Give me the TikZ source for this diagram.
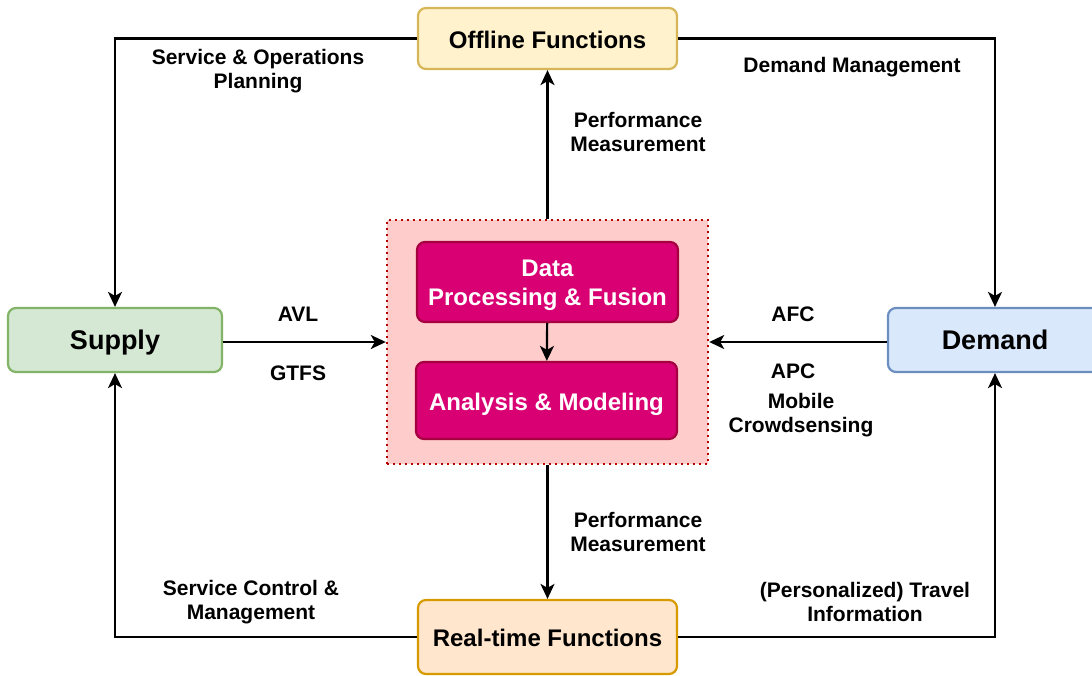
\documentclass[tikz,border=0pt]{standalone}
\usepackage{fontspec}
\setmainfont{Liberation Sans}
\usetikzlibrary{arrows.meta}
\definecolor{offfill}{HTML}{FFF2CC}
\definecolor{offline}{HTML}{D6B656}
\definecolor{supfill}{HTML}{D5E8D4}
\definecolor{supline}{HTML}{82B366}
\definecolor{demfill}{HTML}{DAE8FC}
\definecolor{demline}{HTML}{6C8EBF}
\definecolor{rtfill}{HTML}{FFE6CC}
\definecolor{rtline}{HTML}{D79B00}
\definecolor{hubfill}{HTML}{FFCCCC}
\definecolor{hubline}{HTML}{B20000}
\definecolor{corefill}{HTML}{D80073}
\definecolor{coreline}{HTML}{A50040}

\begin{document}
\begin{tikzpicture}[x=1pt,y=-1pt,
  box/.style={draw,rounded corners=8pt,line width=2.2pt,align=center,
    text height=24pt,text depth=4.4pt,
    font=\bfseries\fontsize{24}{29}\selectfont},
  big/.style={text height=25pt,text depth=5.6pt,
    font=\bfseries\fontsize{27}{32}\selectfont},
  core/.style={box,fill=corefill,draw=coreline,text=white,minimum width=261pt},
  lbl/.style={align=center,font=\bfseries\fontsize{21}{24}\selectfont},
  flow/.style={line width=2.2pt,-{Stealth[length=15pt,width=14pt,inset=4pt]}}]
\useasboundingbox (0,0) rectangle (1092,675);
% outer functions
\node[box,fill=offfill,draw=offline,minimum width=259pt,minimum height=61pt]
  (offline) at (547.5,38.5) {Offline Functions};
\node[box,fill=rtfill,draw=rtline,minimum width=259pt,minimum height=74pt]
  (realtime) at (547.5,637) {Real-time Functions};
\node[box,big,fill=supfill,draw=supline,minimum width=214pt,minimum height=64pt]
  (supply) at (115,340) {Supply};
\node[box,big,fill=demfill,draw=demline,minimum width=214pt,minimum height=64pt]
  (demand) at (995,340) {Demand};
% data hub
\node[draw=hubline,fill=hubfill,line width=2.4pt,dash pattern=on 2.4pt off 3.6pt,
  minimum width=321pt,minimum height=244pt] (hub) at (547.5,342) {};
\node[core,minimum height=80pt,text height=,text depth=] (fusion)
  at (547.5,282) {\rule{0pt}{23.5pt}Data\\Processing \& Fusion};
\node[core,minimum height=77pt] (model) at (546.5,400.5) {Analysis \& Modeling};
\draw[flow] (fusion) -- (model);
% connectors
\draw[flow] (offline.west) -| (supply.north);
\draw[flow] (offline.east) -| (demand.north);
\draw[flow] (supply.east |- hub.west) -- (hub.west);
\draw[flow] (demand.west |- hub.east) -- (hub.east);
\draw[flow] (hub.north) -- (offline.south);
\draw[flow] (hub.south) -- (realtime.north);
\draw[flow] (realtime.west) -| (supply.south);
\draw[flow] (realtime.east) -| (demand.south);
% labels
\node[lbl] (planning) at (258,71) {Service \& Operations\\Planning};
\node[lbl] (demandmgmt) at (852,67) {Demand Management};
\node[lbl] (perfup) at (638,132) {Performance\\Measurement};
\node[lbl] (avl) at (298,314) {AVL};
\node[lbl] (gtfs) at (298,373) {GTFS};
\node[lbl] (afc) at (793,314) {AFC};
\node[lbl] (apc) at (793,371) {APC};
\node[lbl] (mobile) at (801,415) {Mobile\\Crowdsensing};
\node[lbl] (perfdown) at (638,532) {Performance\\Measurement};
\node[lbl] (control) at (251,602) {Service Control \&\\Management};
\node[lbl] (travelinfo) at (865,602) {(Personalized) Travel\\Information};
\end{tikzpicture}
\end{document}
